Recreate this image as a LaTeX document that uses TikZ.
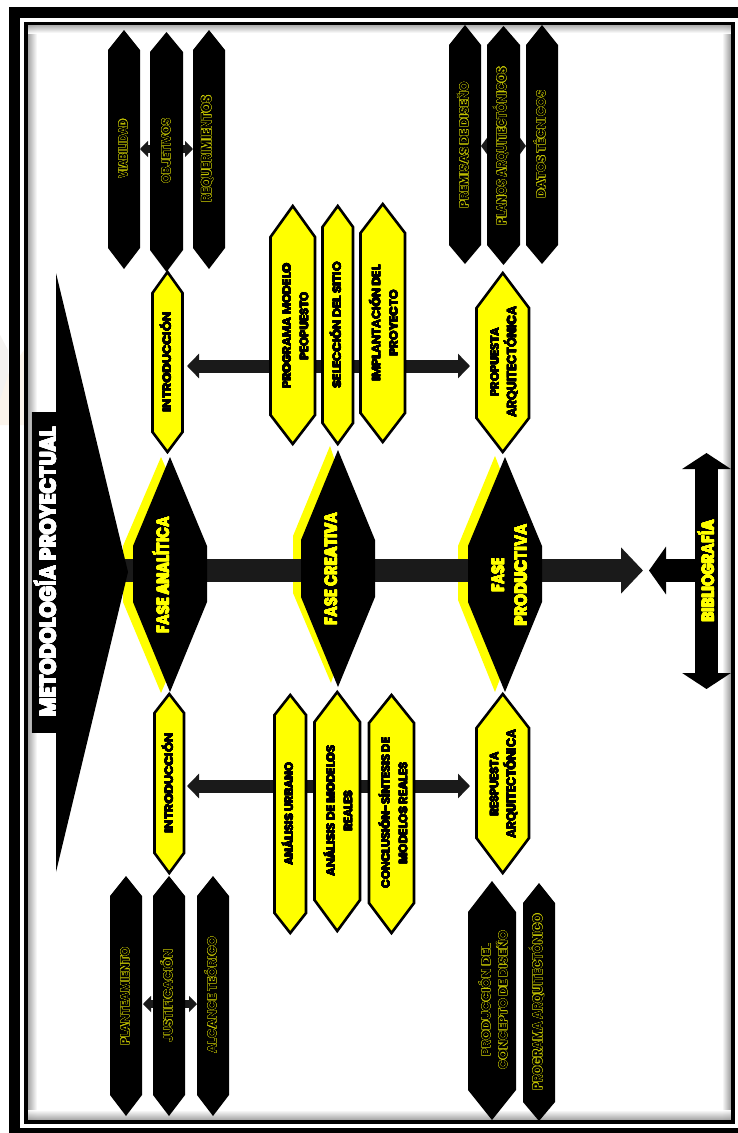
\documentclass[tikz,border=0pt]{standalone}
\usepackage{fontspec}
\setmainfont{Poppins}
\usepackage[copies]{contour}
\usepackage{graphicx}
\usetikzlibrary{arrows.meta}
\contournumber{12}
\definecolor{ink}{HTML}{1A1A1A}
\definecolor{yel}{HTML}{FFFF00}
\definecolor{dimyel}{HTML}{C4C400}
\definecolor{ghost}{HTML}{FBF4EB}
\definecolor{ghostg}{HTML}{F4F2F0}
\newcommand\T[2]{\smash{\resizebox{#1bp}{\totalheight}{#2}}}
% black label hollow, outlined in dim yellow
\newcommand\C[1]{{\contourlength{0.24pt}\contour{dimyel}{#1}}}
% heavier solid lettering
\newcommand\Y[1]{{\contourlength{0.14pt}\contour{black}{#1}}}
\newcommand\F[1]{{\contourlength{0.25pt}\contour{yel}{#1}}}
\newcommand\W[1]{{\contourlength{0.4pt}\contour{white}{#1}}}
% hexa: style, name, x1, x2, top tip, top shoulder, bottom shoulder, bottom tip
\newcommand\hexa[8]{%
  \path[#1] (#3,#6) -- ({(#3+#4)/2},#5) -- (#4,#6) -- (#4,#7) -- ({(#3+#4)/2},#8) -- (#3,#7) -- cycle;
  \coordinate (#2) at ({(#3+#4)/2},{(#6+#7)/2});}
% lab: style, name, half cap height, x, y, text
\newcommand\lab[6]{\node[#1] (#2) at ({#4+#3},#5) {#6};}
\tikzset{
  x=1bp,y=-1bp,
  hexyel/.style={fill=yel,draw=black,line width=2.6bp,miter limit=10},
  hexblk/.style={fill=black},
  txt/.style={rotate=90,inner sep=0pt,align=center},
  ylab/.style={txt,text=black,font=\fontsize{11.5}{17.5}\selectfont\bfseries},
  blab/.style={txt,text=black,font=\fontsize{12}{17}\selectfont\bfseries},
  flab/.style={txt,text=yel,font=\fontsize{17}{23}\selectfont\bfseries},
  tlab/.style={txt,text=white,font=\fontsize{22}{23}\selectfont\bfseries},
  bigarrow/.style={line width=13bp,draw=ink,
    {Triangle[length=12bp,width=24bp]}-{Triangle[length=12bp,width=24bp]}},
  smallarrow/.style={line width=8bp,draw=ink,
    {Triangle[length=8bp,width=16bp]}-{Triangle[length=8bp,width=16bp]}},
  tinyarrow/.style={line width=8bp,draw=ink,
    {Triangle[length=6bp,width=16bp]}-{Triangle[length=6bp,width=16bp]}},
  spinearrow/.style={line width=23bp,draw=ink,-{Triangle[length=22bp,width=45bp]}},
  bibarrow/.style={line width=23bp,draw=black,-{Triangle[length=17bp,width=47bp]}},
  bibbar/.style={line width=23bp,draw=black,
    {Triangle[length=16bp,width=48bp]}-{Triangle[length=16bp,width=48bp]}},
}
\begin{document}
\begin{tikzpicture}
\useasboundingbox (0,0) rectangle (738,1133);
\fill[white] (0,0) rectangle (738,1133);
% faint trace in the left margin
\fill[ghostg] (0,335) -- (8,350) -- (8,400) -- (0,400) -- cycle;
\fill[ghost] (0,425) -- (0,400) -- (9,372) -- (24,350) -- (24,425) -- cycle;
% outer frame
\fill[black] (9,7) rectangle (738,18);
\fill[black] (9,7) rectangle (20,1133);
\fill[black] (9,1128) rectangle (738,1133);
% inner frame + shadows
\shade[left color=gray!70,right color=white] (28,25) rectangle (37,1120);
\shade[left color=white,right color=gray!80] (722,25) rectangle (731,1120);
\shade[top color=gray!70,bottom color=white,opacity=0.9] (28,25) rectangle (731,33);
\shade[top color=white,bottom color=gray!80,opacity=0.9] (28,1110) rectangle (731,1120);
\draw[black,line width=3.6bp] (26,23.5) rectangle (733,1122);

% central spine behind the phases
\path[fill=yel] (161,457) -- (123,546) -- (123,602) -- (161,693) -- (200,602) -- (200,546) -- cycle;
\path[fill=yel] (330,446) -- (293,536) -- (293,593) -- (331,683) -- (360,593) -- (360,536) -- cycle;
\path[fill=yel] (495,456) -- (458,546) -- (458,600) -- (495,692) -- (530,600) -- (530,546) -- cycle;
\coordinate (spineS) at (120,570.5);
\coordinate (spineE) at (643,570.5);
\draw[spinearrow] (spineS) -- (spineE);
\coordinate (bibS) at (696,570.5);
\coordinate (bibE) at (649,570.5);
\draw[bibarrow] (bibS) -- (bibE);
\coordinate (bibT) at (706.5,453);
\coordinate (bibB) at (706.5,689);
\draw[bibbar] (bibT) -- (bibB);

% horizontal double arrows
\coordinate (upL) at (187,366);
\coordinate (upR) at (470,366);
\draw[bigarrow] (upL) -- (upR);
\coordinate (loL) at (187,786);
\coordinate (loR) at (470,786);
\draw[bigarrow] (loL) -- (loR);
% small double arrows
\coordinate (s1L) at (140,149);
\coordinate (s1R) at (193,149);
\draw[smallarrow] (s1L) -- (s1R);
\coordinate (s2L) at (481,146);
\coordinate (s2R) at (526,146);
\draw[tinyarrow] (s2L) -- (s2R);
\coordinate (s3L) at (143,1004);
\coordinate (s3R) at (197,1004);
\draw[smallarrow] (s3L) -- (s3R);

% title
\path[fill=black] (56,273) -- (128,572) -- (56,872) -- cycle;
\fill[black] (31.5,412) rectangle (56,733);
\draw[gray!60,line width=1bp] (31.5,412) -- (31.5,733);
\lab{tlab}{title}{8}{48}{572}{\T{290}{\W{METODOLOGÍA PROYECTUAL}}}

% phases
\hexa{hexblk}{hexA}{133}{207}{457}{546}{602}{692}
\hexa{hexblk}{hexC}{301}{375}{450}{540}{597}{687}
\hexa{hexblk}{hexP}{468}{542}{457}{546}{602}{692}
\lab{flab}{fA}{6}{163}{575}{\T{117}{\F{FASE ANALÍTICA}}}
\lab{flab}{fC}{6}{331}{569}{\T{113}{\F{FASE CREATIVA}}}
\lab{flab}{fP}{6}{509.5}{575}{\T{34}{\F{FASE}}\\\T{102}{\F{PRODUCTIVA}}}
\lab{flab}{bib}{6}{708}{571}{\T{102}{\F{BIBLIOGRAFÍA}}}

% yellow boxes, upper
\hexa{hexyel}{bI1}{152.5}{182.5}{272}{293}{432}{452}
\hexa{hexyel}{bProg}{270.5}{315}{206}{237}{415}{444}
\hexa{hexyel}{bSel}{322.5}{353}{206}{227}{423}{444}
\hexa{hexyel}{bImp}{360.5}{405}{204}{233}{413}{442}
\hexa{hexyel}{bPro}{476.5}{529}{273}{308}{418}{452}
\lab{ylab}{tI1}{4}{167}{362}{\T{100}{\Y{INTRODUCCIÓN}}}
\lab{ylab}{tProg}{4}{295.5}{326}{\T{125}{\Y{PROGRAMA MODELO}}\\\T{68}{\Y{PEOPUESTO}}}
\lab{ylab}{tSel}{4}{337}{325}{\T{126}{\Y{SELECCIÓN DEL SITIO}}}
\lab{ylab}{tImp}{4}{385}{323}{\T{116}{\Y{IMPLANTACIÓN DEL}}\\\T{66}{\Y{PROYECTO}}}
\lab{ylab}{tPro}{4}{503.5}{362}{\T{69}{\Y{PROPUESTA}}\\\T{111}{\Y{ARQUITECTÓNICA}}}

% yellow boxes, lower
\hexa{hexyel}{bI2}{154.5}{184}{694}{713}{853}{873}
\hexa{hexyel}{bUrb}{274.5}{306}{695}{715}{913}{933}
\hexa{hexyel}{bMod}{314.5}{360}{692}{722}{900}{931}
\hexa{hexyel}{bCon}{369}{414}{695}{723}{903}{933}
\hexa{hexyel}{bRes}{476.5}{529}{694}{728}{838}{873}
\lab{ylab}{tI2}{4}{169}{783}{\T{100}{\Y{INTRODUCCIÓN}}}
\lab{ylab}{tUrb}{4}{289}{814}{\T{103}{\Y{ANÁLISIS URBANO}}}
\lab{ylab}{tMod}{4}{339.5}{811}{\T{131}{\Y{ANÁLISIS DE MODELOS}}\\\T{40}{\Y{REALES}}}
\lab{ylab}{tCon}{4}{394.5}{813}{\T{151}{\Y{CONCLUSIÓN-SÍNTESIS DE}}\\\T{102}{\Y{MODELOS REALES}}}
\lab{ylab}{tRes}{4}{503}{784}{\T{64}{\Y{RESPUESTA}}\\\T{109}{\Y{ARQUITECTÓNICA}}}

% black boxes, top left
\hexa{hexblk}{kVia}{108}{140}{30}{50}{248}{269}
\hexa{hexblk}{kObj}{150}{183}{32}{52}{250}{272}
\hexa{hexblk}{kReq}{193}{225}{30}{50}{248}{269}
\lab{blab}{tVia}{4.3}{123}{149}{\T{59}{\C{VIABILIDAD}}}
\lab{blab}{tObj}{4.3}{166}{151}{\T{65}{\C{OBJETIVOS}}}
\lab{blab}{tReq}{4.3}{207}{149}{\T{107}{\C{REQUERIMIENTOS}}}
% black boxes, top right
\hexa{hexblk}{kPre}{449}{481}{25}{45}{245}{264}
\hexa{hexblk}{kPla}{487}{520}{26}{45}{245}{265}
\hexa{hexblk}{kDat}{526}{558}{25}{45}{245}{264}
\lab{blab}{tPre}{4.3}{464}{145}{\T{126}{\C{PREMISAS DE DISEÑO}}}
\lab{blab}{tPla}{4.3}{502}{146}{\T{158}{\C{PLANOS ARQUITECTÓNICOS}}}
\lab{blab}{tDat}{4.3}{541}{144}{\T{108}{\C{DATOS TÉCNICOS}}}
% black boxes, bottom left
\hexa{hexblk}{kPla2}{110}{142}{876}{896}{1095}{1116}
\hexa{hexblk}{kJus}{153}{185}{876}{896}{1095}{1116}
\hexa{hexblk}{kAlc}{197}{229}{876}{896}{1095}{1116}
\lab{blab}{tPla2}{4.3}{125}{996}{\T{98}{\C{PLANTEAMIENTO}}}
\lab{blab}{tJus}{4.3}{168}{996}{\T{93}{\C{JUSTIFICACIÓN}}}
\lab{blab}{tAlc}{4.3}{212}{995}{\T{117}{\C{ALCANCE TEÓRICO}}}
% black boxes, bottom right
\hexa{hexblk}{kPrd}{468}{516}{881}{912}{1090}{1120}
\hexa{hexblk}{kArq}{523}{555}{883}{903}{1102}{1121}
\lab{blab}{tPrd}{4.3}{494.5}{1000}{\T{113}{\C{PRODUCCIÓN DEL}}\\\T{139}{\C{CONCEPTO DE DISEÑO}}}
\lab{blab}{tArq}{4.3}{538}{1002}{\T{176}{\C{PROGRAMA ARQUITECTÓNICO}}}
\end{tikzpicture}
\end{document}
